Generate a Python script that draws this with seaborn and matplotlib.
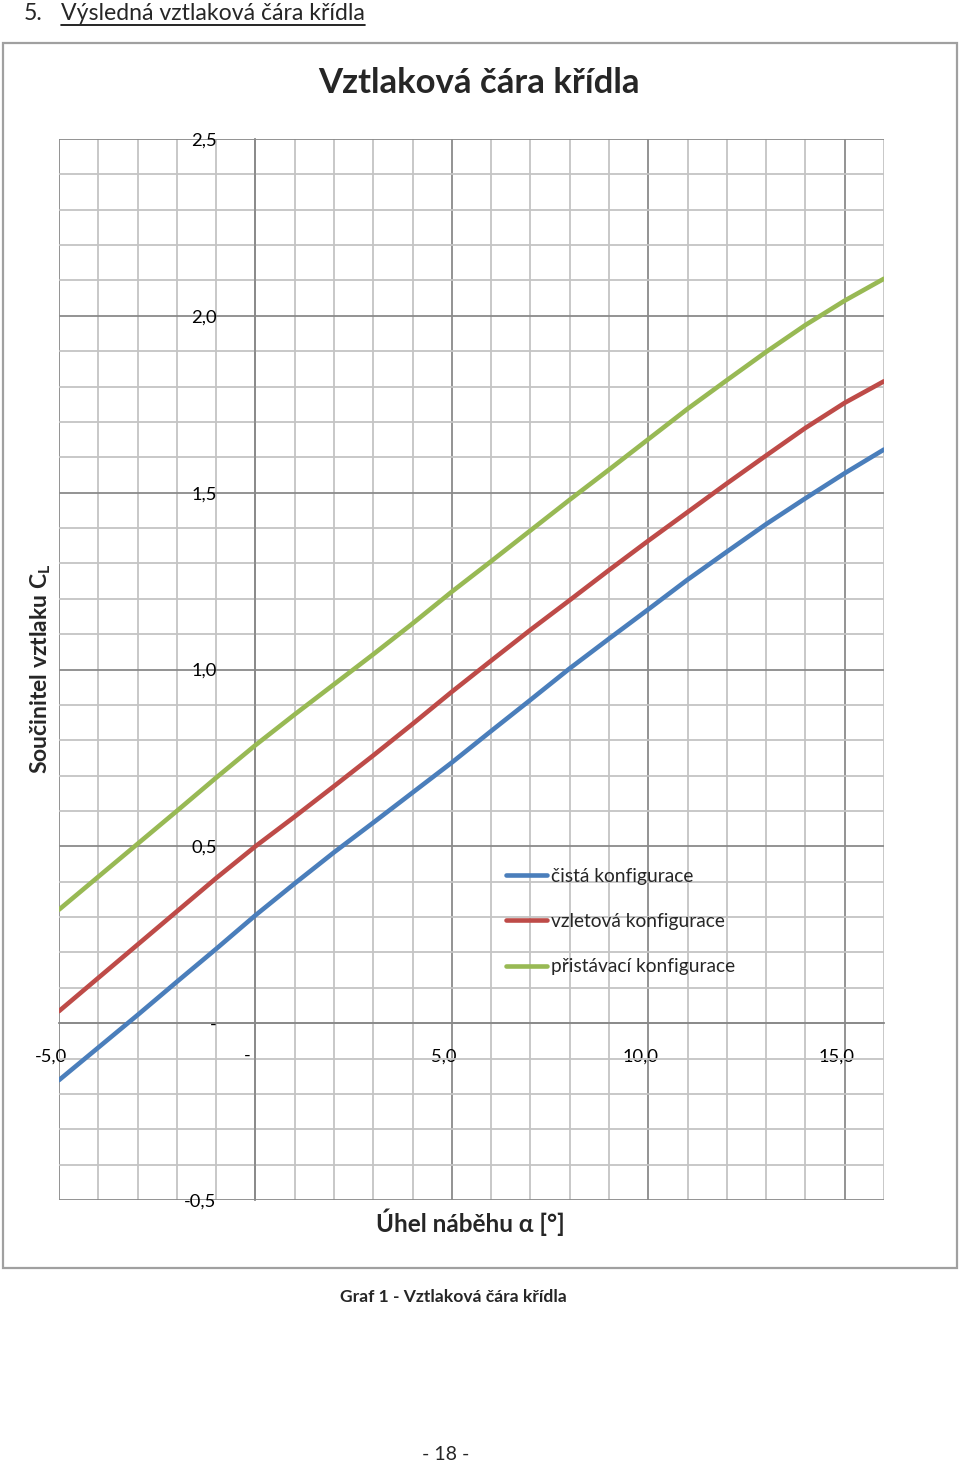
import numpy as np
import pandas as pd
import matplotlib
matplotlib.use("Agg")
import matplotlib.pyplot as plt
import seaborn as sns
from matplotlib.ticker import MultipleLocator, FixedLocator
from matplotlib.patches import Rectangle
from matplotlib.lines import Line2D
import matplotlib.transforms as mtransforms

# ---------------- data ----------------
alpha = [-5, -4, -3, -2, -1, 0, 1, 2, 3, 4, 5, 6, 7, 8, 9, 10, 11, 12, 13, 14, 15, 16]
cl_clean = [-0.161, -0.069, 0.023, 0.117, 0.210, 0.305, 0.395, 0.483, 0.567, 0.652, 0.737,
            0.826, 0.914, 1.003, 1.087, 1.170, 1.254, 1.333, 1.411, 1.484, 1.555, 1.622]
cl_takeoff = [0.034, 0.128, 0.222, 0.316, 0.410, 0.500, 0.584, 0.670, 0.757, 0.846, 0.937,
              1.025, 1.112, 1.196, 1.281, 1.364, 1.445, 1.526, 1.605, 1.683, 1.754, 1.815]
cl_landing = [0.321, 0.414, 0.507, 0.600, 0.694, 0.786, 0.873, 0.958, 1.043, 1.130, 1.220,
              1.306, 1.393, 1.480, 1.565, 1.651, 1.737, 1.818, 1.898, 1.974, 2.043, 2.105]
series_names = ["čistá konfigurace", "vzletová konfigurace", "přistávací konfigurace"]
series_colors = ["#4a7ebb", "#be4b48", "#98b954"]
x_ticks = [-5, 0, 5, 10, 15]
x_ticklabels = ["-5,0", "-", "5,0", "10,0", "15,0"]
y_ticks = [-0.5, 0.0, 0.5, 1.0, 1.5, 2.0, 2.5]
y_ticklabels = ["-0,5", "-", "0,5", "1,0", "1,5", "2,0", "2,5"]

title = "Vztlaková čára křídla"
x_label = "Úhel náběhu α [°]"
y_label = "Součinitel vztlaku C$_\\mathregular{L}$"
heading_num = "5."
heading = "Výsledná vztlaková čára křídla"
caption = "Graf 1 - Vztlaková čára křídla"
page_no = "- 18 -"

# ---------------- style ----------------
sns.set_theme(style="white")
plt.rcParams['font.family'] = ['Lato', 'DejaVu Sans']
plt.rcParams['mathtext.default'] = 'regular'

W, H = 960, 1464
fig = plt.figure(figsize=(W / 100, H / 100), dpi=100)
fig.patch.set_facecolor("white")

def fx(px):
    return px / W

def fy(py):
    return 1 - py / H

ax = fig.add_axes([fx(59), fy(1200), (884 - 59) / W, (1200 - 139) / H])
ax.set_facecolor("white")

df = pd.DataFrame({
    "alpha": alpha * 3,
    "cl": cl_clean + cl_takeoff + cl_landing,
    "config": [series_names[0]] * len(alpha) + [series_names[1]] * len(alpha)
              + [series_names[2]] * len(alpha),
})

sns.lineplot(data=df, x="alpha", y="cl", hue="config", hue_order=series_names,
             palette=dict(zip(series_names, series_colors)), linewidth=3.3,
             ax=ax, legend=True, zorder=5)
for ln in ax.get_lines():
    ln.set_solid_joinstyle("round")

ax.set_xlim(-5, 16)
ax.set_ylim(-0.5, 2.5)

major_c = "#8a8a8a"
minor_c = "#c4c4c4"
ax.xaxis.set_major_locator(FixedLocator(x_ticks))
ax.xaxis.set_minor_locator(MultipleLocator(1))
ax.yaxis.set_major_locator(FixedLocator(y_ticks))
ax.yaxis.set_minor_locator(MultipleLocator(0.1))
ax.set_xticklabels(x_ticklabels)
ax.set_yticklabels(y_ticklabels)
ax.grid(which="minor", color=minor_c, linewidth=1.3, zorder=0)
ax.grid(which="major", color=major_c, linewidth=1.3, zorder=1)
ax.set_axisbelow(True)

for s in ["top", "right"]:
    ax.spines[s].set_visible(False)
ax.spines["left"].set_position(("data", 0))
ax.spines["bottom"].set_position(("data", 0))
for s in ["left", "bottom"]:
    ax.spines[s].set_color(major_c)
    ax.spines[s].set_linewidth(1.3)

ax.tick_params(axis="both", which="both", length=0, colors="black", labelsize=13.2)
ax.tick_params(axis="y", pad=28)
ax.tick_params(axis="x", pad=18)
offset = mtransforms.ScaledTranslation(-8 / 100, 0, fig.dpi_scale_trans)
for lab in ax.get_xticklabels():
    lab.set_transform(lab.get_transform() + offset)
ax.set_xlabel("")
ax.set_ylabel("")

handles, labels = ax.get_legend_handles_labels()
leg = ax.legend(handles, labels, loc="upper left", bbox_to_anchor=((498 - 59) / 825, (1200 - 860) / 1061),
                frameon=False, fontsize=13.8, handlelength=2.15, handletextpad=0.2,
                labelspacing=1.48, borderaxespad=0)
for ln in leg.get_lines():
    ln.set_linewidth(3.3)

# ---------------- texts ----------------
fig.text(fx(479), fy(83), title, ha="center", va="center", fontsize=25, fontweight="bold")
fig.text(fx(41), fy(669), y_label, ha="center", va="center", rotation=90,
         fontsize=16.5, fontweight="bold")
fig.text(fx(470), fy(1222), x_label, ha="center", va="center", fontsize=17.5, fontweight="bold")
fig.text(fx(453), fy(1297), caption, ha="center", va="center", fontsize=12.6, fontweight="bold")
fig.text(fx(446), fy(1454), page_no, ha="center", va="center", fontsize=14)

fig.text(fx(24), fy(13), heading_num, ha="left", va="center", fontsize=16.6)
htxt = fig.text(fx(61), fy(13), heading, ha="left", va="center", fontsize=16.6)

# chart border
fig.add_artist(Rectangle((fx(3), fy(1268)), (957 - 3) / W, (1268 - 43) / H,
                         transform=fig.transFigure, fill=False,
                         edgecolor="#a0a0a0", linewidth=1.6))

# underline of heading
fig.canvas.draw()
bb = htxt.get_window_extent(renderer=fig.canvas.get_renderer())
x0, x1 = bb.x0 / W, bb.x1 / W
fig.add_artist(Line2D([x0, x1], [fy(25), fy(25)], transform=fig.transFigure,
                      color="black", linewidth=1.2))

fig.savefig("out.png", dpi=100, facecolor="white")
